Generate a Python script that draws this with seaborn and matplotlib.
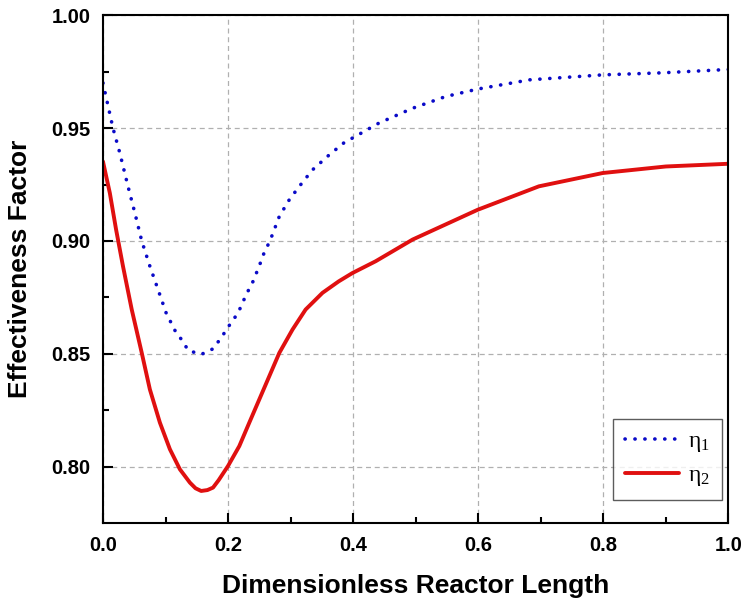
import numpy as np
import pandas as pd
import matplotlib
matplotlib.use("Agg")
import matplotlib.pyplot as plt
import seaborn as sns

# Data
x_eta1 = [0.0, 0.016, 0.027, 0.040, 0.051, 0.062, 0.075, 0.088, 0.101, 0.117, 0.128, 0.136,
          0.157, 0.176, 0.189, 0.203, 0.216, 0.229, 0.240, 0.250, 0.258, 0.267, 0.282, 0.298,
          0.314, 0.335, 0.362, 0.388, 0.399, 0.441, 0.495, 0.548, 0.599, 0.682, 0.799, 0.894, 1.0]
eta1 = [0.9700, 0.9500, 0.9389, 0.9242, 0.9124, 0.9000, 0.8888, 0.8785, 0.8681, 0.8593, 0.8555, 0.8515,
        0.8497, 0.8522, 0.8571, 0.8630, 0.8681, 0.8762, 0.8821, 0.8890, 0.8950, 0.9000, 0.9109, 0.9183,
        0.9242, 0.9315, 0.9382, 0.9441, 0.9456, 0.9522, 0.9588, 0.9640, 0.9673, 0.9714, 0.9736, 0.9745, 0.9760]

x_eta2 = [0.0, 0.011, 0.021, 0.032, 0.046, 0.062, 0.075, 0.091, 0.107, 0.123, 0.139, 0.148,
          0.157, 0.167, 0.176, 0.185, 0.200, 0.218, 0.234, 0.250, 0.266, 0.282, 0.303, 0.324,
          0.351, 0.377, 0.399, 0.436, 0.495, 0.599, 0.697, 0.799, 0.900, 1.0]
eta2 = [0.9352, 0.9212, 0.9050, 0.8888, 0.8696, 0.8504, 0.8342, 0.8195, 0.8077, 0.7988, 0.7929, 0.7904,
        0.7892, 0.7896, 0.7907, 0.7940, 0.8003, 0.8091, 0.8195, 0.8298, 0.8401, 0.8504, 0.8607, 0.8696,
        0.8770, 0.8821, 0.8858, 0.8910, 0.9006, 0.9138, 0.9242, 0.9301, 0.9330, 0.9342]

x_ticks = [0.0, 0.2, 0.4, 0.6, 0.8, 1.0]
y_ticks = [0.80, 0.85, 0.90, 0.95, 1.00]
x_label = "Dimensionless Reactor Length"
y_label = "Effectiveness Factor"
labels = [r"$\mathregular{\eta_1}$", r"$\mathregular{\eta_2}$"]

sns.set_theme(style="white")
plt.rcParams["font.family"] = ["Liberation Sans", "DejaVu Sans"]
plt.rcParams["text.color"] = "black"
plt.rcParams["axes.labelcolor"] = "black"
plt.rcParams["xtick.color"] = "black"
plt.rcParams["ytick.color"] = "black"

fig = plt.figure(figsize=(7.44, 6.02), dpi=100)
ax = fig.add_axes([0.1384, 0.1312, 0.979 - 0.1384, 0.9746 - 0.1312])

df1 = pd.DataFrame({"x": x_eta1, "y": eta1})
df2 = pd.DataFrame({"x": x_eta2, "y": eta2})

sns.lineplot(data=df1, x="x", y="y", ax=ax, color="#0a0ac8", lw=2.6,
             linestyle=(0, (0.05, 2.7)), dash_capstyle="round", label=labels[0])
sns.lineplot(data=df2, x="x", y="y", ax=ax, color="#e01010", lw=2.8,
             label=labels[1])

ax.set_xlim(0.0, 1.0)
ax.set_ylim(0.775, 1.00)
ax.set_xticks(x_ticks)
ax.set_yticks(y_ticks)
ax.set_xticklabels([f"{v:.1f}" for v in x_ticks])
ax.set_yticklabels([f"{v:.2f}" for v in y_ticks])
ax.set_xticks(np.arange(0.1, 1.0, 0.2), minor=True)
ax.set_yticks([0.825, 0.875, 0.925, 0.975], minor=True)

ax.grid(True, which="major", linestyle=(0, (4, 3)), color="#b0b0b0", lw=0.9)
ax.set_axisbelow(True)

for s in ax.spines.values():
    s.set_visible(True)
    s.set_color("black")
    s.set_linewidth(1.5)

ax.tick_params(axis="both", which="major", direction="in", length=7, width=1.5,
               labelsize=14.5, pad=9, bottom=True, left=True, top=False, right=False,
               colors="black")
ax.tick_params(axis="both", which="minor", direction="in", length=4, width=1.5,
               bottom=True, left=True, top=False, right=False, colors="black")
for t in ax.get_xticklabels() + ax.get_yticklabels():
    t.set_fontweight("bold")

ax.set_xlabel(x_label, fontsize=19, fontweight="bold", labelpad=14, color="black")
ax.set_ylabel(y_label, fontsize=19, fontweight="bold", labelpad=14, color="black")

leg = ax.legend(loc="lower right", bbox_to_anchor=(0.99, 0.045),
                prop={"family": "Liberation Serif", "size": 17},
                frameon=True, fancybox=False,
                edgecolor="#333333", handlelength=2.3, borderaxespad=0.0,
                labelspacing=0.45, handletextpad=0.4, borderpad=0.5)
leg.get_frame().set_linewidth(1.0)

fig.savefig("out.png", dpi=100)
